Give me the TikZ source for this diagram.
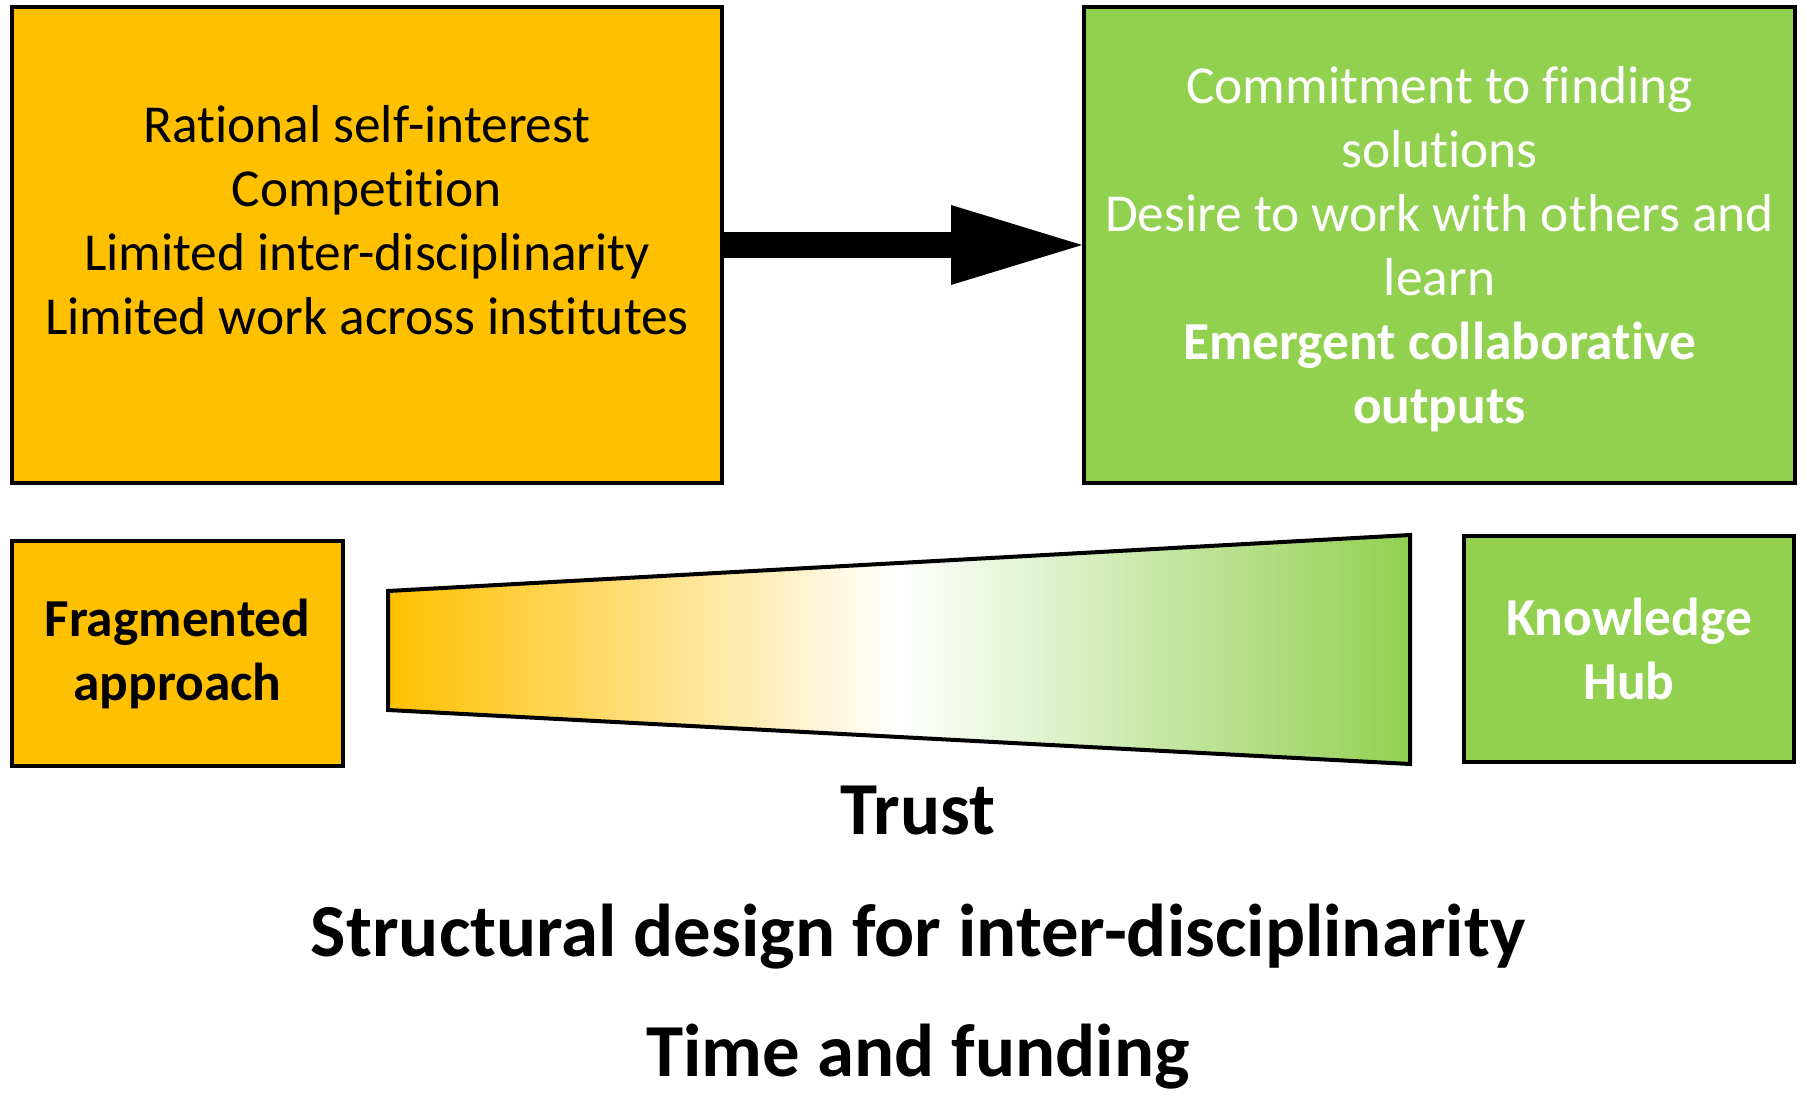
\documentclass[tikz,border=0pt]{standalone}
\usepackage{fontspec}
\setmainfont{Carlito}[Ligatures=NoCommon]
\usetikzlibrary{arrows.meta, positioning}
\definecolor{fragorange}{HTML}{FFC000}
\definecolor{hubgreen}{HTML}{92D050}

\begin{document}
\begin{tikzpicture}[x=0.5pt, y=-0.5pt,
    box/.style={draw=black, line width=2pt, inner sep=0pt},
    boxtext/.style={align=center, font=\fontsize{26.7}{32}\selectfont},
    bigtext/.style={font=\fontsize{37.4}{44}\selectfont\bfseries}]
    \useasboundingbox (0,0) rectangle (1807,1096);

    % upper boxes
    \node[box, fill=fragorange, minimum width=355pt, minimum height=238pt] (fragbox) at (367,245) {};
    \node[boxtext] (fragtext) at (367,220) {Rational self-interest\\Competition\\Limited inter-disciplinarity\\Limited work across institutes};
    \node[box, fill=hubgreen, minimum width=355.5pt, minimum height=238pt] (hubbox) at (1439.5,245) {};
    \node[boxtext, text=white] (hubtext) at (1439.5,249) {Commitment to finding\\solutions\\Desire to work with others and\\learn\\\textbf{Emergent collaborative}\\\textbf{outputs}};

    % block arrow
    \draw[line width=13pt, -{Triangle[length=65.5pt, width=40pt, line width=0pt]}] (fragbox) -- (hubbox);

    % lower boxes
    \node[box, fill=fragorange, minimum width=165.5pt, minimum height=112.5pt, boxtext, font=\fontsize{26.7}{32}\selectfont\bfseries] (fragsmall) at (177.5,653.5) {Fragmented\\approach};
    \node[box, fill=hubgreen, minimum width=165pt, minimum height=113pt, boxtext, text=white, font=\fontsize{26.7}{32}\selectfont\bfseries] (hubsmall) at (1629,649) {Knowledge\\Hub};

    % trust wedge
    \shadedraw[line width=2pt, left color=fragorange, right color=hubgreen, middle color=white] (388,591) -- (1410,535) -- (1410,764) -- (388,710) -- cycle;

    % labels underneath
    \node[bigtext, anchor=base] (trust) at (918,834) {Trust};
    \node[bigtext, anchor=base] (structure) at (918,956) {Structural design for inter-disciplinarity};
    \node[bigtext, anchor=base] (funding) at (918,1076) {Time and funding};
\end{tikzpicture}
\end{document}
